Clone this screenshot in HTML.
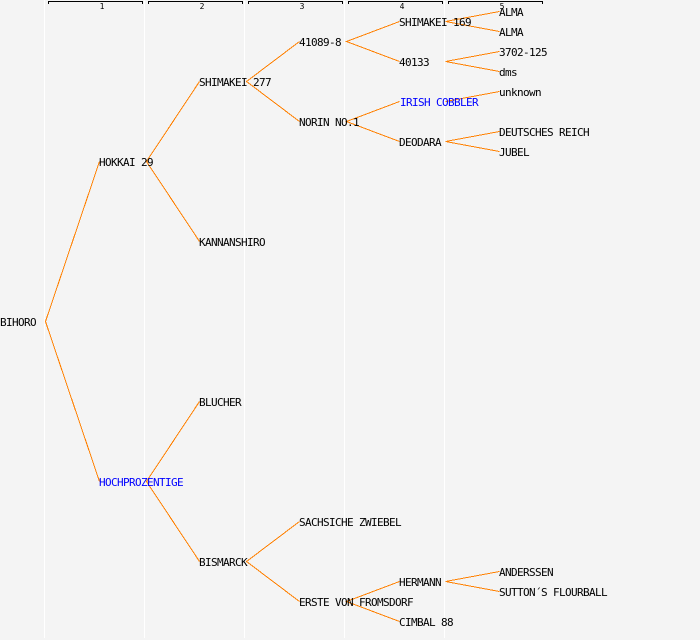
<!DOCTYPE html>
<html>
<head>
<meta charset="utf-8">
<style>
html,body{margin:0;padding:0;background:#f4f4f4;}
svg{display:block;}
text{font-family:"DejaVu Sans Mono","Liberation Mono",monospace;font-size:11px;letter-spacing:-0.62px;fill:#000;}
.n{font-size:8px;letter-spacing:0;text-anchor:middle;}
.b{fill:#0000ff;}
</style>
</head>
<body>
<svg width="700" height="640" viewBox="0 0 700 640" xmlns="http://www.w3.org/2000/svg">
<rect width="700" height="640" fill="#f4f4f4"/>
<g fill="#fff">
<rect x="44" y="0" width="1" height="638"/>
<rect x="144" y="0" width="1" height="638"/>
<rect x="244" y="0" width="1" height="638"/>
<rect x="344" y="0" width="1" height="638"/>
<rect x="444" y="0" width="1" height="638"/>
</g>
<g fill="none" stroke="#000" stroke-width="1" shape-rendering="crispEdges">
<path d="M48.5 4V1.5H142.5V4"/>
<path d="M148.5 4V1.5H242.5V4"/>
<path d="M248.5 4V1.5H342.5V4"/>
<path d="M348.5 4V1.5H442.5V4"/>
<path d="M448.5 4V1.5H542.5V4"/>
</g>
<text class="n" x="102" y="9">1</text>
<text class="n" x="202" y="9">2</text>
<text class="n" x="302" y="9">3</text>
<text class="n" x="402" y="9">4</text>
<text class="n" x="502" y="9">5</text>
<g fill="none" stroke="#ff8000" stroke-width="1" shape-rendering="crispEdges">
<path d="M99.5 161.5L45.5 321.5L99.5 481.5"/>
<path d="M199.5 81.5L146.5 161.5L199.5 241.5"/>
<path d="M199.5 401.5L146.5 481.5L199.5 561.5"/>
<path d="M299.5 41.5L246.5 81.5L299.5 121.5"/>
<path d="M299.5 521.5L246.5 561.5L299.5 601.5"/>
<path d="M399.5 21.5L346.5 41.5L399.5 61.5"/>
<path d="M399.5 101.5L346.5 121.5L399.5 141.5"/>
<path d="M399.5 581.5L346.5 601.5L399.5 621.5"/>
<path d="M499.5 11.5L445.5 21.5L499.5 31.5"/>
<path d="M499.5 51.5L445.5 61.5L499.5 71.5"/>
<path d="M499.5 91.5L445.5 101.5"/>
<path d="M499.5 131.5L445.5 141.5L499.5 151.5"/>
<path d="M499.5 571.5L445.5 581.5L499.5 591.5"/>
</g>
<text x="0" y="326">BIHORO</text>
<text x="99" y="166">HOKKAI 29</text>
<text x="99" y="486" class="b">HOCHPROZENTIGE</text>
<text x="199" y="86">SHIMAKEI 277</text>
<text x="199" y="246">KANNANSHIRO</text>
<text x="199" y="406">BLUCHER</text>
<text x="199" y="566">BISMARCK</text>
<text x="299" y="46">41089-8</text>
<text x="299" y="126">NORIN NO.1</text>
<text x="299" y="526">SACHSICHE ZWIEBEL</text>
<text x="299" y="606">ERSTE VON FROMSDORF</text>
<text x="399" y="26">SHIMAKEI 169</text>
<text x="399" y="66">40133</text>
<text x="400" y="106" class="b">IRISH COBBLER</text>
<text x="399" y="146">DEODARA</text>
<text x="399" y="586">HERMANN</text>
<text x="399" y="626">CIMBAL 88</text>
<text x="499" y="16">ALMA</text>
<text x="499" y="36">ALMA</text>
<text x="499" y="56">3702-125</text>
<text x="499" y="76">dms</text>
<text x="499" y="96">unknown</text>
<text x="499" y="136">DEUTSCHES REICH</text>
<text x="499" y="156">JUBEL</text>
<text x="499" y="576">ANDERSSEN</text>
<text x="499" y="596">SUTTON´S FLOURBALL</text>
</svg>
</body>
</html>
